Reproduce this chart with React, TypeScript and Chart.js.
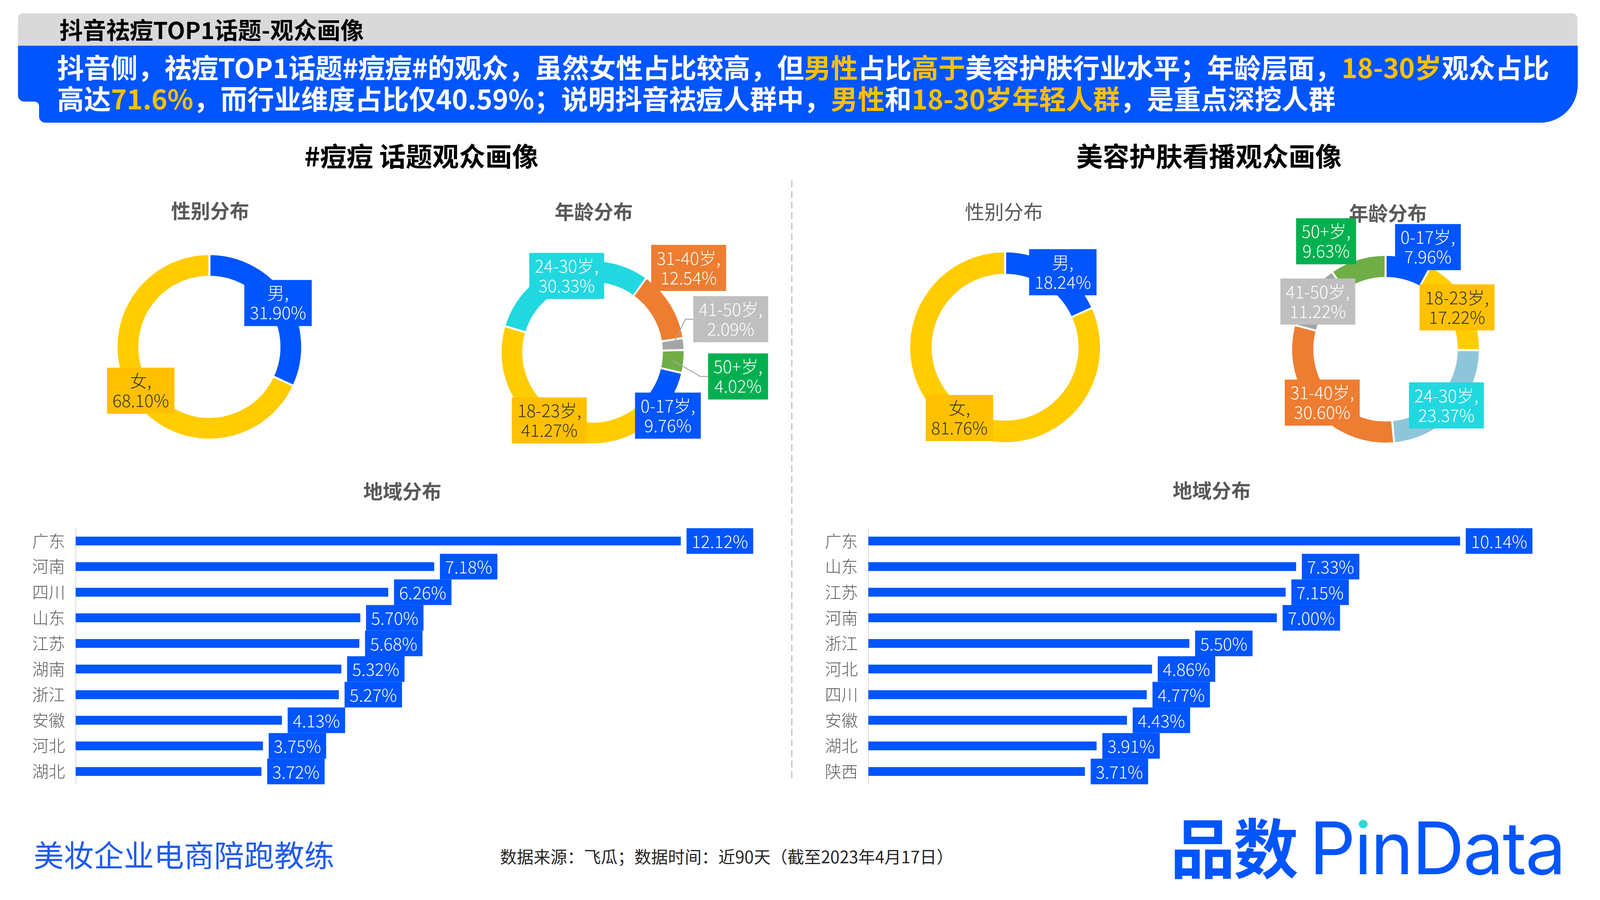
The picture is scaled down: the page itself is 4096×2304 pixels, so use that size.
import React, { useEffect, useRef } from 'react';
import { Chart, registerables } from 'chart.js';

Chart.register(...registerables);

// ---------------- data ----------------
const genderLabels = ['男', '女'];
const topicGender = [31.9, 68.1];
const industryGender = [18.24, 81.76];

const ageLabels = ['0-17岁', '18-23岁', '24-30岁', '31-40岁', '41-50岁', '50+岁'];
const topicAge = [9.76, 41.27, 30.33, 12.54, 2.09, 4.02];
const industryAge = [7.96, 17.22, 23.37, 30.6, 11.22, 9.63];

const topicRegions = ['广东', '河南', '四川', '山东', '江苏', '湖南', '浙江', '安徽', '河北', '湖北'];
const topicRegionShare = [12.12, 7.18, 6.26, 5.7, 5.68, 5.32, 5.27, 4.13, 3.75, 3.72];

const industryRegions = ['广东', '山东', '江苏', '河南', '浙江', '河北', '四川', '安徽', '湖北', '陕西'];
const industryRegionShare = [10.14, 7.33, 7.15, 7.0, 5.5, 4.86, 4.77, 4.43, 3.91, 3.71];

// ---------------- styles ----------------
const FONT = '"Noto Sans CJK SC", "Noto Sans", sans-serif';
const BLUE = '#0055FF';
const YELLOW_RING = '#FFCC00';
const GOLD = '#FFC000';
const CYAN = '#22D8E0';
const LIGHT_BLUE = '#8EC6D9';
const ORANGE = '#ED7D31';
const GRAY_RING = '#A5A5A5';
const GRAY_BOX = '#BFBFBF';
const GREEN_RING = '#70AD47';
const GREEN_BOX = '#00B050';
const DARK = '#333333';
const SUB = '#595959';

type Nudge = [number, number];

interface DonutSpec {
  labels: string[];
  values: number[];
  ring: string[];
  box: string[];
  text: string[];
  cx: number;
  cy: number;
  R: number;
  r: number;
  rotation: number;
  nudges?: Nudge[];
  leaders?: boolean[];
}

const BORDER = 5;
const LABEL_FONT = `300 44px ${FONT}`;

function donutLabelPlugin(spec: DonutSpec) {
  return {
    id: 'donutLabels',
    afterDraw(chart: any) {
      const ctx = chart.ctx as CanvasRenderingContext2D;
      const meta = chart.getDatasetMeta(0);
      ctx.save();
      ctx.font = LABEL_FONT;
      meta.data.forEach((arc: any, i: number) => {
        const p = arc.getProps(['x', 'y', 'startAngle', 'endAngle', 'innerRadius', 'outerRadius'], true);
        const mid = (p.startAngle + p.endAngle) / 2;
        const rm = (p.innerRadius + p.outerRadius) / 2;
        const ax = p.x + Math.cos(mid) * rm;
        const ay = p.y + Math.sin(mid) * rm;
        const n = (spec.nudges && spec.nudges[i]) || [0, 0];
        const bx = ax + n[0];
        const by = ay + n[1];
        const l1 = `${spec.labels[i]},`;
        const l2 = `${spec.values[i].toFixed(2)}%`;
        const w = Math.max(ctx.measureText(l1).width, ctx.measureText(l2).width) + 28;
        const h = 118;
        if (spec.leaders && spec.leaders[i]) {
          ctx.strokeStyle = '#A6A6A6';
          ctx.lineWidth = 2.5;
          ctx.beginPath();
          ctx.moveTo(ax, ay);
          ctx.lineTo(bx - w / 2 - 20, by);
          ctx.lineTo(bx - w / 2, by);
          ctx.stroke();
        }
        ctx.fillStyle = spec.box[i];
        ctx.fillRect(bx - w / 2, by - h / 2, w, h);
        ctx.fillStyle = spec.text[i];
        ctx.textAlign = 'center';
        ctx.textBaseline = 'middle';
        ctx.fillText(l1, bx, by - 25);
        ctx.fillText(l2, bx, by + 25);
      });
      ctx.restore();
    },
  };
}

const DONUT_CANVAS = 1000;

function Donut({ spec }: { spec: DonutSpec }) {
  const ref = useRef<HTMLCanvasElement>(null);
  useEffect(() => {
    const chart = new Chart(ref.current as HTMLCanvasElement, {
      type: 'doughnut',
      data: {
        labels: spec.labels,
        datasets: [
          {
            data: spec.values,
            backgroundColor: spec.ring,
            borderColor: '#FFFFFF',
            borderWidth: BORDER,
          },
        ],
      },
      options: {
        animation: false,
        responsive: false,
        maintainAspectRatio: false,
        events: [],
        rotation: spec.rotation,
        radius: spec.R + BORDER / 2,
        cutout: `${((spec.r - BORDER / 2) / (spec.R + BORDER / 2)) * 100}%`,
        layout: { padding: 0 },
        plugins: { legend: { display: false }, tooltip: { enabled: false } },
      } as any,
      plugins: [donutLabelPlugin(spec)],
    });
    return () => chart.destroy();
  }, []);
  return (
    <canvas
      ref={ref}
      width={DONUT_CANVAS}
      height={DONUT_CANVAS}
      style={{
        position: 'absolute',
        left: spec.cx - DONUT_CANVAS / 2,
        top: spec.cy - DONUT_CANVAS / 2,
        width: DONUT_CANVAS,
        height: DONUT_CANVAS,
      }}
    />
  );
}

interface BarSpec {
  labels: string[];
  values: number[];
  left: number;
  top: number;
  width: number;
  height: number;
  axisW: number;
  max: number;
  padTop: number;
  padBottom: number;
  padRight: number;
}

const barLabelPlugin = {
  id: 'barLabels',
  afterDatasetsDraw(chart: any) {
    const ctx = chart.ctx as CanvasRenderingContext2D;
    const meta = chart.getDatasetMeta(0);
    const ys = chart.scales.y;
    const band = Math.abs(ys.getPixelForValue(1) - ys.getPixelForValue(0));
    ctx.save();
    ctx.font = LABEL_FONT;
    meta.data.forEach((bar: any, i: number) => {
      const v = chart.data.datasets[0].data[i] as number;
      const txt = `${v.toFixed(2)}%`;
      const w = ctx.measureText(txt).width + 26;
      const x0 = bar.x + 15;
      ctx.fillStyle = BLUE;
      ctx.fillRect(x0, bar.y - band / 2, w, band);
      ctx.fillStyle = '#FFFFFF';
      ctx.textAlign = 'center';
      ctx.textBaseline = 'middle';
      ctx.fillText(txt, x0 + w / 2, bar.y + 1);
    });
    ctx.restore();
  },
};

function Bars({ spec }: { spec: BarSpec }) {
  const ref = useRef<HTMLCanvasElement>(null);
  useEffect(() => {
    const chart = new Chart(ref.current as HTMLCanvasElement, {
      type: 'bar',
      data: {
        labels: spec.labels,
        datasets: [{ data: spec.values, backgroundColor: BLUE, barThickness: 22 }],
      },
      options: {
        indexAxis: 'y',
        animation: false,
        responsive: false,
        maintainAspectRatio: false,
        events: [],
        layout: { padding: { left: 0, right: spec.padRight, top: spec.padTop, bottom: spec.padBottom } },
        scales: {
          x: { display: false, min: 0, max: spec.max },
          y: {
            grid: { display: false, drawTicks: false },
            border: { display: true, color: '#D9D9D9', width: 2 },
            ticks: { color: SUB, font: { family: FONT, size: 42, weight: '300' }, padding: 27 },
            afterFit: (s: any) => {
              s.width = spec.axisW;
            },
          },
        },
        plugins: { legend: { display: false }, tooltip: { enabled: false } },
      } as any,
      plugins: [barLabelPlugin],
    });
    return () => chart.destroy();
  }, []);
  return (
    <canvas
      ref={ref}
      width={spec.width}
      height={spec.height}
      style={{ position: 'absolute', left: spec.left, top: spec.top, width: spec.width, height: spec.height }}
    />
  );
}

// ---------------- specs ----------------
const donuts: DonutSpec[] = [
  {
    labels: genderLabels,
    values: topicGender,
    ring: [BLUE, YELLOW_RING],
    box: [BLUE, GOLD],
    text: ['#FFFFFF', DARK],
    cx: 535.5,
    cy: 888,
    R: 235,
    r: 182,
    rotation: 0,
  },
  {
    labels: ageLabels,
    values: topicAge,
    ring: [BLUE, YELLOW_RING, CYAN, ORANGE, GRAY_RING, GREEN_RING],
    box: [BLUE, GOLD, CYAN, ORANGE, GRAY_BOX, GREEN_BOX],
    text: ['#FFFFFF', DARK, '#FFFFFF', '#FFFFFF', '#FFFFFF', '#FFFFFF'],
    cx: 1517,
    cy: 902,
    R: 233,
    r: 180,
    rotation: 103,
    nudges: [
      [15, 57],
      [0, 0],
      [0, 0],
      [70, -108],
      [148, -66],
      [167, 41],
    ],
    leaders: [false, false, false, false, true, true],
  },
  {
    labels: genderLabels,
    values: industryGender,
    ring: [BLUE, YELLOW_RING],
    box: [BLUE, GOLD],
    text: ['#FFFFFF', DARK],
    cx: 2573,
    cy: 889,
    R: 243,
    r: 188,
    rotation: 0,
    nudges: [
      [31, -11],
      [0, 0],
    ],
  },
  {
    labels: ageLabels,
    values: industryAge,
    ring: [BLUE, YELLOW_RING, LIGHT_BLUE, ORANGE, GRAY_RING, GREEN_RING],
    box: [BLUE, GOLD, CYAN, ORANGE, GRAY_BOX, GREEN_BOX],
    text: ['#FFFFFF', DARK, '#FFFFFF', '#FFFFFF', '#FFFFFF', '#FFFFFF'],
    cx: 3547,
    cy: 894,
    R: 239,
    r: 185,
    rotation: 0,
    nudges: [
      [56, -56],
      [0, 0],
      [0, 0],
      [0, 0],
      [0, 0],
      [-89, -74],
    ],
  },
];

const bars: BarSpec[] = [
  {
    labels: topicRegions,
    values: topicRegionShare,
    left: 20,
    top: 1300,
    width: 2000,
    height: 760,
    axisW: 173.6,
    max: 14,
    padTop: 49.3,
    padBottom: 48.5,
    padRight: 37.2,
  },
  {
    labels: industryRegions,
    values: industryRegionShare,
    left: 2040,
    top: 1300,
    width: 2040,
    height: 760,
    axisW: 183,
    max: 12,
    padTop: 49,
    padBottom: 45,
    padRight: 64.8,
  },
];

// ---------------- text helpers ----------------
function Txt({
  x,
  cy,
  size,
  color,
  weight = 400,
  center = false,
  children,
  family = FONT,
}: {
  x: number;
  cy: number;
  size: number;
  color: string;
  weight?: number;
  center?: boolean;
  children: React.ReactNode;
  family?: string;
}) {
  return (
    <div
      style={{
        position: 'absolute',
        left: x,
        top: cy - size * 0.55,
        transform: center ? 'translateX(-50%)' : undefined,
        fontFamily: family,
        fontSize: size,
        lineHeight: 1,
        fontWeight: weight,
        color,
        whiteSpace: 'nowrap',
      }}
    >
      {children}
    </div>
  );
}

const Y = ({ children }: { children: React.ReactNode }) => <span style={{ color: GOLD }}>{children}</span>;

export default function App() {
  useEffect(() => {
    document.body.style.margin = '0';
  }, []);
  return (
    <div
      style={{
        position: 'fixed',
        left: 0,
        top: 0,
        width: 4096,
        height: 2304,
        background: '#FFFFFF',
        overflow: 'hidden',
        fontFamily: FONT,
      }}
    >
      <svg width={4096} height={340} style={{ position: 'absolute', left: 0, top: 0 }}>
        <path d="M 46 117 V 47 A 13 13 0 0 1 59 34 H 4025 A 13 13 0 0 1 4038 47 V 117 Z" fill="#D9D9D9" />
        <path
          d="M 46 117 H 4039 V 218 A 96 96 0 0 1 3943 314 H 116 A 16 16 0 0 1 100 298 V 272 A 12 12 0 0 0 88 260 H 62 A 16 16 0 0 1 46 244 Z"
          fill={BLUE}
        />
      </svg>
      <Txt x={152} cy={77} size={60} color="#000000" weight={700}>
        抖音祛痘TOP1话题-观众画像
      </Txt>
      <Txt x={146} cy={174} size={69} color="#FFFFFF" weight={700}>
        <span style={{ letterSpacing: -0.2 }}>
          抖音侧，祛痘TOP1话题#痘痘#的观众，虽然女性占比较高，但<Y>男性</Y>占比<Y>高于</Y>美容护肤行业水平；年龄层面，<Y>18-30岁</Y>观众占比
        </span>
      </Txt>
      <Txt x={146} cy={254} size={69} color="#FFFFFF" weight={700}>
        高达<Y>71.6%</Y>，而行业维度占比仅40.59%；说明抖音祛痘人群中，<Y>男性</Y>和<Y>18-30岁年轻人群</Y>，是重点深挖人群
      </Txt>

      <Txt x={1079} cy={400} size={68} color="#000000" weight={700} center>
        #痘痘 话题观众画像
      </Txt>
      <Txt x={3095} cy={400} size={68} color="#000000" weight={700} center>
        美容护肤看播观众画像
      </Txt>

      <Txt x={538} cy={539} size={50} color={SUB} weight={700} center>
        性别分布
      </Txt>
      <Txt x={1520} cy={541} size={50} color={SUB} weight={700} center>
        年龄分布
      </Txt>
      <Txt x={2570} cy={541} size={50} color={SUB} weight={400} center>
        性别分布
      </Txt>
      <Txt x={3553} cy={545} size={50} color={SUB} weight={700} center>
        年龄分布
      </Txt>
      <Txt x={1030} cy={1257} size={50} color={SUB} weight={700} center>
        地域分布
      </Txt>
      <Txt x={3102} cy={1255} size={50} color={SUB} weight={700} center>
        地域分布
      </Txt>

      <svg width={10} height={1540} style={{ position: 'absolute', left: 2022, top: 462 }}>
        <line x1={5} y1={0} x2={5} y2={1536} stroke="#BFBFBF" strokeWidth={3} strokeDasharray="18 9" />
      </svg>

      {donuts.map((d, i) => (
        <Donut key={`d${i}`} spec={d} />
      ))}
      {bars.map((b, i) => (
        <Bars key={`b${i}`} spec={b} />
      ))}

      <Txt x={86} cy={2189} size={77} color="#1F5AF0" weight={400}>
        美妆企业电商陪跑教练
      </Txt>
      <Txt x={1280} cy={2194} size={43} color="#262626" weight={400}>
        数据来源：飞瓜；数据时间：近90天（截至2023年4月17日）
      </Txt>

      <div
        style={{
          position: 'absolute',
          left: 2996,
          top: 2080,
          fontFamily: FONT,
          fontSize: 166,
          lineHeight: 1,
          fontWeight: 700,
          color: BLUE,
          whiteSpace: 'nowrap',
          letterSpacing: -4,
        }}
      >
        品数
      </div>
      <div
        style={{
          position: 'absolute',
          left: 3352,
          top: 2079,
          fontFamily: 'Inter, "Noto Sans", sans-serif',
          fontSize: 185,
          lineHeight: 1,
          fontWeight: 400,
          color: BLUE,
          whiteSpace: 'nowrap',
          letterSpacing: -3,
        }}
      >
        P
        <span
          style={{
            backgroundImage: `linear-gradient(to bottom, #2ED8D8 0%, #2ED8D8 32%, ${BLUE} 32%, ${BLUE} 100%)`,
            WebkitBackgroundClip: 'text',
            backgroundClip: 'text',
            color: 'transparent',
          }}
        >
          i
        </span>
        nData
      </div>
    </div>
  );
}
